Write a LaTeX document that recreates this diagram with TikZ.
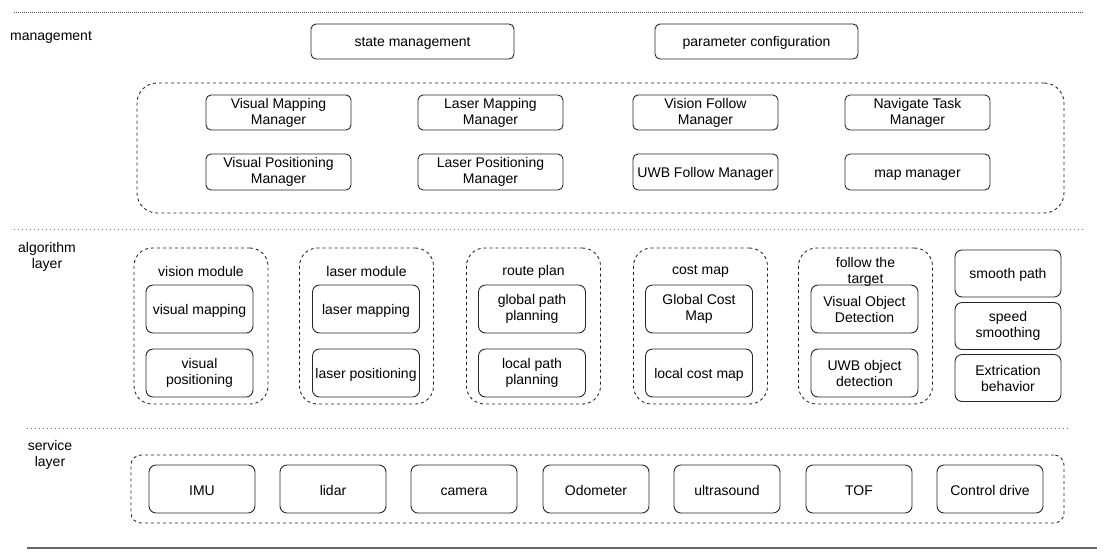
\documentclass[tikz,border=0pt]{standalone}
\usepackage{fontspec}
\setmainfont{Liberation Sans}
\usetikzlibrary{positioning}

\begin{document}
\begin{tikzpicture}[
    x=1pt, y=-1pt,
    font=\fontsize{14}{16}\selectfont,
    box/.style={draw=black!85, line width=0.9pt, rounded corners=5pt, align=center, inner sep=0pt,
        execute at begin node={\rule{0pt}{13.5pt}}},
    mbox/.style={box, minimum width=145pt, minimum height=35pt},
    abox/.style={box, rounded corners=7pt, minimum width=107pt, minimum height=48pt},
    grp/.style={draw=black!85, line width=0.9pt, dash pattern=on 3pt off 3pt, rounded corners=18pt, inner sep=0pt},
    lbl/.style={align=center, inner sep=0pt},
    sep/.style={black!55, line width=1pt, dash pattern=on 1pt off 3pt},
]
\useasboundingbox (0,0) rectangle (1107,558);

% Separator lines
\draw[black!70, line width=0.8pt, dash pattern=on 1pt off 1pt] (14,12) -- (1084,12);
\draw[sep] (14,229) -- (1084,229);
\draw[sep] (27,428) -- (1068,428);
\draw[black!60, line width=1.2pt] (27,548) -- (1097,548);

% management
\node[lbl, anchor=west] (lblman) at (10,37.5) {management};
\node[box, minimum width=203pt, minimum height=35pt] (state) at (412.5,41.5) {state management};
\node[box, minimum width=203pt, minimum height=35pt] (param) at (756.5,41.5) {parameter configuration};

\node[grp, rounded corners=20pt, minimum width=927pt, minimum height=130pt] (mgrgrp) at (600.5,148) {};
\node[mbox] (vmapmgr) at (278.5,112.5) {Visual Mapping\\Manager};
\node[mbox] (lmapmgr) at (490.5,112.5) {Laser Mapping\\Manager};
\node[mbox] (vfolmgr) at (705.5,112.5) {Vision Follow\\Manager};
\node[mbox] (navmgr) at (917.5,112.5) {Navigate Task\\Manager};
\node[mbox, minimum height=36pt] (vposmgr) at (278.5,172) {Visual Positioning\\Manager};
\node[mbox, minimum height=36pt] (lposmgr) at (490.5,172) {Laser Positioning\\Manager};
\node[mbox, minimum height=36pt] (ufolmgr) at (705.5,172) {UWB Follow Manager};
\node[mbox, minimum height=36pt] (mapmgr) at (917.5,172) {map manager};

% algorithm layer
\node[lbl] (lblalg) at (47,257) {algorithm\\layer};

% vision module
\node[grp, minimum width=134pt, minimum height=156pt] (visgrp) at (201,326) {};
\node[lbl] (vistitle) at (201,271.5) {vision module};
\node[abox] (vismap) at (199.5,309) {visual mapping};
\node[abox] (vispos) at (199.5,373) {visual\\positioning};

% laser module
\node[grp, minimum width=134pt, minimum height=156pt] (lasgrp) at (366.5,326) {};
\node[lbl] (lastitle) at (366.5,271.5) {laser module};
\node[abox] (lasmap) at (366,309) {laser mapping};
\node[abox] (laspos) at (366,373) {laser positioning};

% route plan
\node[grp, minimum width=134pt, minimum height=156pt] (rtegrp) at (533.5,326) {};
\node[lbl] (rtetitle) at (533.5,271.5) {route plan};
\node[abox] (glbplan) at (532,309) {global path\\planning};
\node[abox] (locplan) at (532,373) {local path\\planning};

% cost map
\node[grp, minimum width=134pt, minimum height=156pt] (cstgrp) at (700.5,326) {};
\node[lbl] (csttitle) at (700.5,271.5) {cost map};
\node[abox] (glbcost) at (699,309) {Global Cost\\Map};
\node[abox] (loccost) at (699,373) {local cost map};

% follow the target
\node[grp, minimum width=134pt, minimum height=156pt] (folgrp) at (865.5,326) {};
\node[lbl] (foltitle) at (865.5,271.5) {follow the\\target};
\node[abox] (visobj) at (864.5,309) {Visual Object\\Detection};
\node[abox] (uwbobj) at (864.5,373) {UWB object\\detection};

% right column
\node[abox, minimum width=106pt, minimum height=47pt] (smooth) at (1008,273.5) {smooth path};
\node[abox, minimum width=106pt, minimum height=47pt] (speed) at (1008,326) {speed\\smoothing};
\node[abox, minimum width=106pt, minimum height=47pt] (extric) at (1008,378) {Extrication\\behavior};

% service layer
\node[lbl] (lblsrv) at (50,454.5) {service\\layer};
\node[grp, rounded corners=10pt, minimum width=933pt, minimum height=68pt] (srvgrp) at (597.5,489) {};
\foreach \name/\x/\txt in {imu/202/IMU, lidar/333/lidar, camera/464/camera, odom/596/Odometer,
    ultra/727/ultrasound, tof/859/TOF, drive/990/Control drive} {
    \node[abox, minimum width=106pt] (\name) at (\x,489) {\txt};
}

\end{tikzpicture}
\end{document}
